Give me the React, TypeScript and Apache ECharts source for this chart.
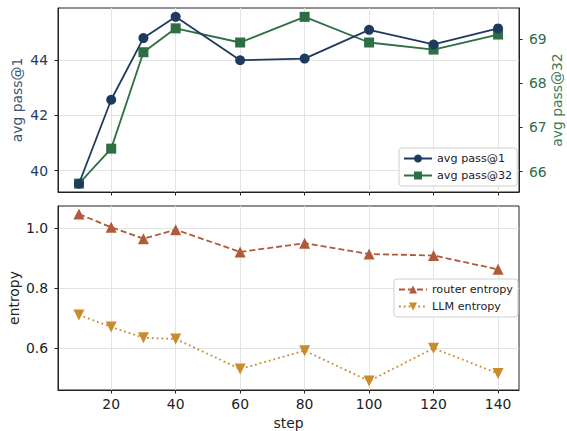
import React, { useEffect, useRef } from "react";
import * as echarts from "echarts";

const steps = [10, 20, 30, 40, 60, 80, 100, 120, 140];
const pass1 = [39.53, 42.57, 44.8, 45.57, 44.0, 44.06, 45.1, 44.57, 45.15];
const pass32 = [65.73, 66.52, 68.7, 69.24, 68.92, 69.5, 68.92, 68.76, 69.1];
const routerEntropy = [1.047, 1.003, 0.965, 0.995, 0.921, 0.95, 0.914, 0.909, 0.863];
const llmEntropy = [0.711, 0.671, 0.635, 0.631, 0.531, 0.592, 0.491, 0.6, 0.516];
const xTicks = [20, 40, 60, 80, 100, 120, 140];
const pass1Ticks = [40, 42, 44];
const pass32Ticks = [66, 67, 68, 69];
const entropyTicks = [0.6, 0.8, 1.0];

const C1 = "#1f3a5f";
const C32 = "#2e6e44";
const CR = "#b05a3a";
const CL = "#c98b2b";
const FONT = "DejaVu Sans";
const FS = 13.9;

export default function App() {
  const ref = useRef<HTMLDivElement>(null);
  useEffect(() => {
    if (!ref.current) return;
    const chart = echarts.init(ref.current, null, { renderer: "svg" });
    const pair = (ys: number[]) => steps.map((s, i) => [s, ys[i]]);
    const grid = {
      show: true,
      borderColor: "#222",
      borderWidth: 1,
      backgroundColor: "transparent",
      containLabel: false,
      outerBoundsMode: "none",
    };
    const splitLine = { show: true, lineStyle: { color: "#e3e3e3", width: 1 } };
    const xBase = (gi: number, labels: boolean) => ({
      type: "value",
      gridIndex: gi,
      min: 3.5,
      max: 146.5,
      axisLine: { show: true, lineStyle: { color: "#222" } },
      axisTick: { show: true, length: 3.5, customValues: xTicks, lineStyle: { color: "#222" } },
      axisLabel: {
        show: labels,
        customValues: xTicks,
        color: "#222",
        fontSize: FS,
        fontFamily: FONT,
        margin: 7,
      },
      splitLine,
      name: labels ? "step" : "",
      nameLocation: "middle",
      nameGap: 26,
      nameMoveOverlap: false,
      nameTextStyle: { color: "#222", fontSize: FS, fontFamily: FONT },
    });
    const legendBase = {
      orient: "vertical",
      itemWidth: 28,
      itemHeight: 10,
      itemGap: 6,
      padding: [5, 5, 5, 4],
      borderColor: "#d0d0d0",
      borderWidth: 1,
      borderRadius: 3,
      backgroundColor: "rgba(255,255,255,0.85)",
      textStyle: { color: "#222", fontSize: 11.2, fontFamily: FONT },
    };
    chart.setOption({
      animation: false,
      grid: [
        { ...grid, left: 58, right: 48, top: 8, height: 184 },
        { ...grid, left: 58, right: 48, top: 206, height: 184 },
      ],
      xAxis: [xBase(0, false), xBase(1, true)],
      yAxis: [
        {
          type: "value",
          gridIndex: 0,
          position: "left",
          min: 39.23,
          max: 45.89,
          axisLine: { show: true, lineStyle: { color: "#222" } },
          axisTick: { show: true, length: 3.5, customValues: pass1Ticks, lineStyle: { color: "#222" } },
          axisLabel: { customValues: pass1Ticks, color: C1, fontSize: FS, fontFamily: FONT, margin: 10 },
          splitLine,
          name: "avg pass@1",
          nameLocation: "middle",
          nameGap: 34,
          nameMoveOverlap: false,
          nameTextStyle: { color: "#3b5578", fontSize: FS, fontFamily: FONT },
        },
        {
          type: "value",
          gridIndex: 0,
          position: "right",
          min: 65.54,
          max: 69.7,
          axisLine: { show: true, lineStyle: { color: "#222" } },
          axisTick: { show: true, length: 3.5, customValues: pass32Ticks, lineStyle: { color: "#222" } },
          axisLabel: { customValues: pass32Ticks, color: C32, fontSize: FS, fontFamily: FONT, margin: 10 },
          splitLine: { show: false },
          name: "avg pass@32",
          nameLocation: "middle",
          nameGap: 31,
          nameMoveOverlap: false,
          nameTextStyle: { color: "#3f7d55", fontSize: FS, fontFamily: FONT },
        },
        {
          type: "value",
          gridIndex: 1,
          position: "left",
          min: 0.461,
          max: 1.074,
          axisLine: { show: true, lineStyle: { color: "#222" } },
          axisTick: { show: true, length: 3.5, customValues: entropyTicks, lineStyle: { color: "#222" } },
          axisLabel: {
            customValues: entropyTicks,
            color: "#222",
            fontSize: FS,
            fontFamily: FONT,
            margin: 10,
            formatter: (v: number) => v.toFixed(1),
          },
          splitLine,
          name: "entropy",
          nameLocation: "middle",
          nameGap: 37,
          nameMoveOverlap: false,
          nameTextStyle: { color: "#222", fontSize: FS, fontFamily: FONT },
        },
      ],
      legend: [
        { ...legendBase, data: ["avg pass@1", "avg pass@32"], left: 399, top: 148 },
        { ...legendBase, data: ["router entropy", "LLM entropy"], left: 394, top: 279 },
      ],
      series: [
        {
          name: "avg pass@1",
          type: "line",
          xAxisIndex: 0,
          yAxisIndex: 0,
          data: pair(pass1),
          symbol: "circle",
          symbolSize: 10,
          color: C1,
          lineStyle: { color: C1, width: 1.8 },
          itemStyle: { color: C1 },
          z: 3,
        },
        {
          name: "avg pass@32",
          type: "line",
          xAxisIndex: 0,
          yAxisIndex: 1,
          data: pair(pass32),
          symbol: "rect",
          symbolSize: 10,
          color: C32,
          lineStyle: { color: C32, width: 1.8 },
          itemStyle: { color: C32 },
          z: 2,
        },
        {
          name: "router entropy",
          type: "line",
          xAxisIndex: 1,
          yAxisIndex: 2,
          data: pair(routerEntropy),
          symbol: "triangle",
          symbolSize: 11,
          color: CR,
          lineStyle: { color: CR, width: 1.8, type: [6, 3] },
          itemStyle: { color: CR },
        },
        {
          name: "LLM entropy",
          type: "line",
          xAxisIndex: 1,
          yAxisIndex: 2,
          data: pair(llmEntropy),
          symbol: "triangle",
          symbolRotate: 180,
          symbolSize: 11,
          color: CL,
          lineStyle: { color: CL, width: 1.8, type: [1.8, 3] },
          itemStyle: { color: CL },
        },
      ],
    });
    return () => chart.dispose();
  }, []);
  return (
    <div
      ref={ref}
      style={{ position: "fixed", left: 0, top: 0, width: 567, height: 431, background: "#fff" }}
    />
  );
}
